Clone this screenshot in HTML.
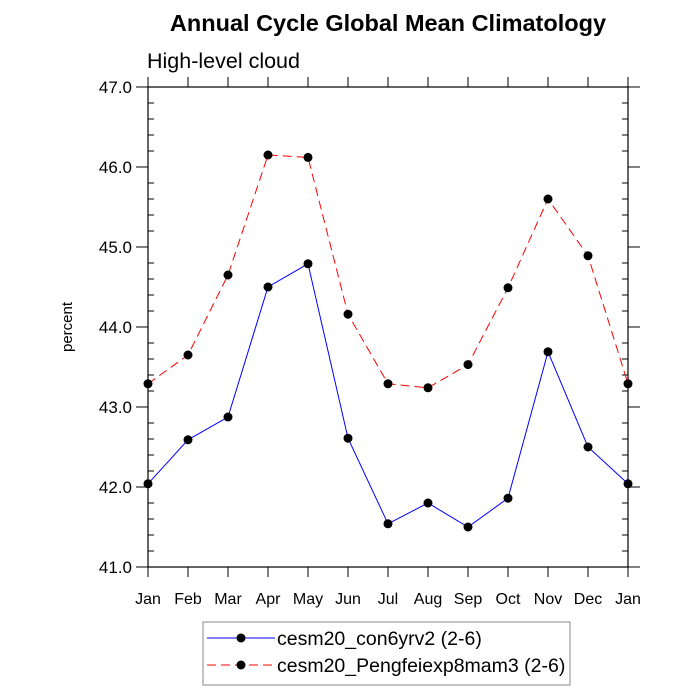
<!DOCTYPE html>
<html><head><meta charset="utf-8"><style>body{margin:0;background:#fff}svg{display:block;font-family:"Liberation Sans",sans-serif}</style></head>
<body>
<svg id="chart" width="700" height="700" xmlns="http://www.w3.org/2000/svg">
<text x="388" y="31" text-anchor="middle" font-size="23.5" font-weight="bold">Annual Cycle Global Mean Climatology</text>
<text x="147" y="68" font-size="21.5">High-level cloud</text>
<text transform="translate(72,327) rotate(-90)" text-anchor="middle" font-size="15">percent</text>
<rect x="148" y="87" width="480" height="480" fill="none" stroke="#000" stroke-width="1.2"/>
<g id="axes"></g>
<g id="series"></g>
<g>
<rect x="203" y="622" width="367" height="63" fill="#fff" stroke="#888" stroke-width="1"/>
<line x1="207" y1="638" x2="275" y2="638" stroke="#00f" stroke-width="1"/>
<circle cx="241" cy="638" r="4.5" fill="#000"/>
<text x="277" y="645" font-size="19.5">cesm20_con6yrv2 (2-6)</text>
<line x1="207" y1="665" x2="275" y2="665" stroke="#f00" stroke-width="1" stroke-dasharray="9,5"/>
<circle cx="241" cy="665" r="4.5" fill="#000"/>
<text x="277" y="672" font-size="19.5">cesm20_Pengfeiexp8mam3 (2-6)</text>
</g>
</svg>
<script>
const months = ["Jan","Feb","Mar","Apr","May","Jun","Jul","Aug","Sep","Oct","Nov","Dec","Jan"];
const seriesControl = [42.04,42.59,42.875,44.5,44.79,42.61,41.54,41.8,41.5,41.86,43.69,42.5,42.04];
const seriesExp = [43.29,43.65,44.65,46.15,46.12,44.16,43.29,43.24,43.53,44.49,45.6,44.89,43.29];
const yTicks = [41,42,43,44,45,46,47];
const NS="http://www.w3.org/2000/svg";
const X0=148,X1=628,Y0=567,Y1=87,YMIN=41,YMAX=47;
function xs(i){return X0+(X1-X0)*i/(months.length-1);}
function ys(v){return Y0-(Y0-Y1)*(v-YMIN)/(YMAX-YMIN);}
function mk(tag,attrs,parent){const e=document.createElementNS(NS,tag);for(const k in attrs)e.setAttribute(k,attrs[k]);parent.appendChild(e);return e;}
const ax=document.getElementById('axes');
months.forEach((m,i)=>{
  const x=xs(i);
  const t=mk('line',{x1:x,y1:Y0,x2:x,y2:Y0+10,stroke:'#000','stroke-width':1},ax);
  
  
  mk('line',{x1:x,y1:Y1,x2:x,y2:Y1-10,stroke:'#000','stroke-width':1},ax);
  const l=mk('text',{x:x,y:Y0+37,'text-anchor':'middle','font-size':16},ax);
  l.textContent=m;
  
  
});
yTicks.forEach((v,i)=>{
  const y=ys(v);
  mk('line',{x1:X0-12,y1:y,x2:X0,y2:y,stroke:'#000','stroke-width':1},ax);
  mk('line',{x1:X1,y1:y,x2:X1+12,y2:y,stroke:'#000','stroke-width':1},ax);
  const l=mk('text',{x:X0-16,y:y+6,'text-anchor':'end','font-size':17},ax);
  l.textContent=v.toFixed(1);
  
  
  if(i<yTicks.length-1){for(let k=1;k<5;k++){const yy=ys(v+k*0.2);
    mk('line',{x1:X0,y1:yy,x2:X0+6,y2:yy,stroke:'#000','stroke-width':1},ax);
    mk('line',{x1:X1-6,y1:yy,x2:X1,y2:yy,stroke:'#000','stroke-width':1},ax);}}
});
const sg=document.getElementById('series');
function draw(data,color,dash,name){
  const pts=data.map((v,i)=>xs(i)+','+ys(v)).join(' ');
  const pl=mk('polyline',{points:pts,fill:'none',stroke:color,'stroke-width':1,'stroke-dasharray':dash},sg);
  
  
  data.forEach((v,i)=>{const c=mk('circle',{cx:xs(i),cy:ys(v),r:4.5,fill:'#000'},sg);
    
    });
}
draw(seriesControl,'#00f','none','con6yrv2');
draw(seriesExp,'#f00','9,5','pengfeiexp8mam3');
</script>
</body></html>
